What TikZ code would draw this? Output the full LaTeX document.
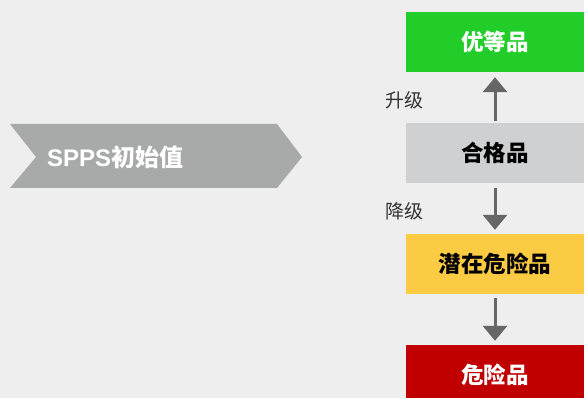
\documentclass[tikz,border=0pt]{standalone}
\usepackage{fontspec}
\setmainfont{Noto Sans CJK SC}
\newfontfamily\latinfont{Liberation Sans}
\usetikzlibrary{positioning}
\usetikzlibrary{arrows.meta}
\definecolor{bggray}{HTML}{EEEEEE}
\definecolor{chevgray}{HTML}{A8AAA9}
\definecolor{topgreen}{HTML}{22CD2A}
\definecolor{midgray}{HTML}{CFD0D2}
\definecolor{warnyellow}{HTML}{FBCB43}
\definecolor{dangerred}{HTML}{C00000}
\definecolor{arrowgray}{HTML}{666666}
\begin{document}
\begin{tikzpicture}[x=1pt,y=-1pt,
	grade/.style={rectangle,minimum width=178pt,minimum height=60pt,font=\bfseries\fontsize{22.5}{26}\selectfont,inner sep=0pt},
	flow/.style={draw=arrowgray,line width=3pt,-{Triangle[width=24pt,length=15pt]}},
	tag/.style={font=\fontsize{19}{22}\selectfont,text=black!80,anchor=east}]
	\useasboundingbox (0,0) rectangle (584,398);
	\clip (0,0) rectangle (584,398);
	\fill [bggray] (0,0) rectangle (584,398);
	% left chevron
	\fill [chevgray] (10,124) -- (277,124) -- (302,157) -- (277,188) -- (10,188) -- (36,157) -- cycle;
	\node [anchor=west,text=white,inner sep=0pt,font=\bfseries\fontsize{24}{28}\selectfont] (init) at (47,157) {{\latinfont SPPS}初始值};
	% grades
	\node [grade,fill=topgreen,text=white] (best) at (495,42) {优等品};
	\node [grade,fill=midgray,text=black] (ok) at (495,153) {合格品};
	\node [grade,fill=warnyellow,text=black] (risk) at (495,264) {潜在危险品};
	\node [grade,fill=dangerred,text=white] (bad) at (495,375) {危险品};
	% arrows
	\draw [flow,shorten <=2pt,shorten >=5pt] (ok) -- (best);
	\draw [flow,shorten <=5pt,shorten >=4pt] (ok) -- (risk);
	\draw [flow,shorten <=4pt,shorten >=4pt] (risk) -- (bad);
	\node [tag] (up) at (427,100) {升级};
	\node [tag] (down) at (427,211) {降级};
\end{tikzpicture}
\end{document}
